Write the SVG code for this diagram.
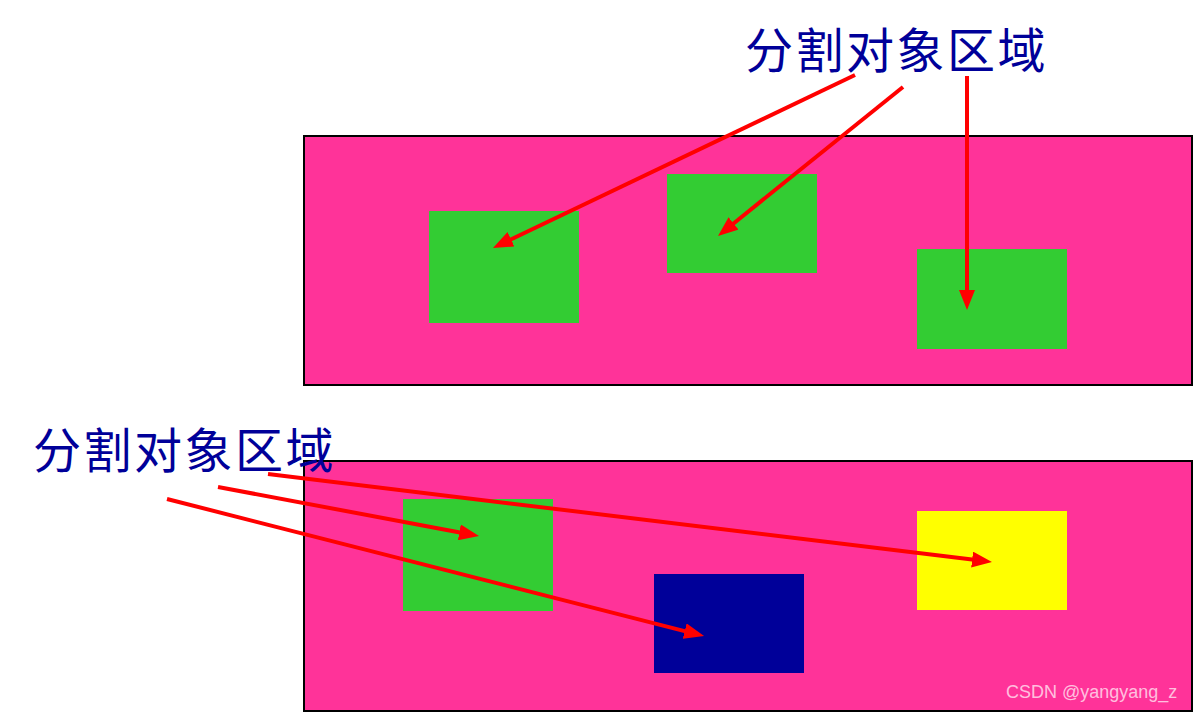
<svg xmlns="http://www.w3.org/2000/svg" width="1193" height="712" viewBox="0 0 1193 712">
<style>
.panel{fill:#FF3399;stroke:#000;stroke-width:2}
.label{font-family:"Noto Sans CJK SC","Noto Sans",sans-serif;font-size:48px;letter-spacing:2.5px;fill:#000099}
.arrow{stroke:#FF0000;stroke-width:4;fill:none;marker-end:url(#ah)}
.wm{font-family:"Liberation Sans",Arial,sans-serif;font-size:18px;fill:#FFFFFF;fill-opacity:0.7}
</style>
<defs>
<marker id="ah" markerUnits="userSpaceOnUse" viewBox="0 0 20 16" markerWidth="20" markerHeight="16" refX="2" refY="8" orient="auto">
<path d="M0,0 L20,8 L0,16 z" fill="#FF0000"/>
</marker>
</defs>
<rect width="1193" height="712" fill="#FFFFFF"/>
<g id="panel-top">
<rect class="panel" x="304" y="136" width="888" height="249"/>
</g>
<g id="panel-bottom">
<rect class="panel" x="304" y="461" width="888" height="250"/>
</g>
<g id="region-top-1"><rect x="429" y="211" width="150" height="112" fill="#33CC33"/></g>
<g id="region-top-2"><rect x="667" y="174" width="150" height="99" fill="#33CC33"/></g>
<g id="region-top-3"><rect x="917" y="249" width="150" height="100" fill="#33CC33"/></g>
<g id="region-bottom-1"><rect x="403" y="499" width="150" height="112" fill="#33CC33"/></g>
<g id="region-bottom-2"><rect x="654" y="574" width="150" height="99" fill="#000099"/></g>
<g id="region-bottom-3"><rect x="917" y="511" width="150" height="99" fill="#FFFF00"/></g>
<g id="label-top"><text class="label" x="745" y="68">分割对象区域</text></g>
<g id="label-bottom"><text class="label" x="33" y="468">分割对象区域</text></g>
<g id="connectors">
<line class="arrow" x1="855" y1="75" x2="509.2" y2="240.2"/>
<line class="arrow" x1="903" y1="87" x2="732" y2="224.7"/>
<line class="arrow" x1="967" y1="76" x2="967" y2="292"/>
<line class="arrow" x1="218" y1="487" x2="461.3" y2="532.7"/>
<line class="arrow" x1="268" y1="474" x2="974.1" y2="559.8"/>
<line class="arrow" x1="167" y1="499" x2="686.6" y2="631.6"/>
</g>
<text class="wm" x="1006" y="698">CSDN @yangyang_z</text>
</svg>
